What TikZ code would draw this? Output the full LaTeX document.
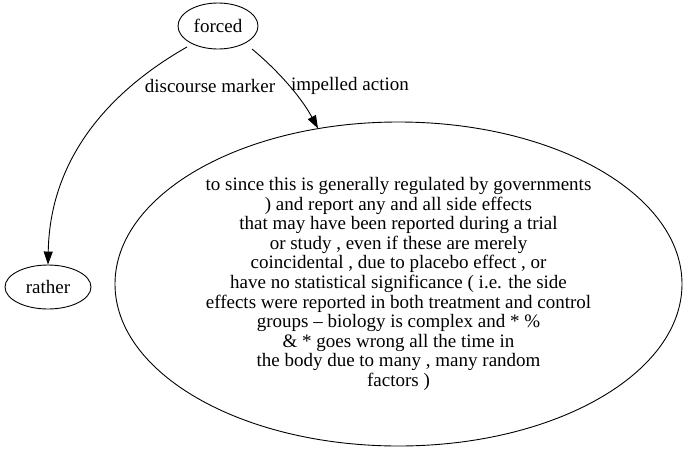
\documentclass[tikz,border=0pt]{standalone}
\usepackage{fontspec}
\setmainfont{Liberation Serif}
\usetikzlibrary{shapes.geometric,arrows.meta}
\begin{document}
\begin{tikzpicture}[x=1pt,y=-1pt,
  every node/.style={font=\fontsize{19pt}{19.6pt}\selectfont},
  ell/.style={draw,ellipse,line width=0.9pt,inner sep=0pt},
  edge/.style={draw,line width=0.9pt,-{Triangle[length=13pt,width=9pt]}},
  lbl/.style={inner sep=1pt}]
\useasboundingbox (0,0) rectangle (688,453);
\node[ell,minimum width=80pt,minimum height=46pt] (forced) at (218,26) {forced};
\node[ell,minimum width=86pt,minimum height=44pt] (rather) at (48,287) {rather};
\node[ell,minimum width=567pt,minimum height=324pt,align=center] (big) at (398.5,284) {to since this is generally regulated by governments\\
) and report any and all side effects\\
that may have been reported during a trial\\
or study , even if these are merely\\
coincidental , due to placebo effect , or\\
have no statistical significance ( i.e. the side\\
effects were reported in both treatment and control\\
groups -- biology is complex and * \%\\
\& * goes wrong all the time in\\
the body due to many , many random\\
factors )};
\path[edge] (187,47) .. controls (120,85) and (50,150) .. (rather.north);
\path[edge] (252,49) .. controls (275,68) and (300,95) .. (318,128.5);
\node[lbl] (l1) at (210,86) {discourse marker};
\node[lbl] (l2) at (350,86) {impelled action};
\end{tikzpicture}
\end{document}
